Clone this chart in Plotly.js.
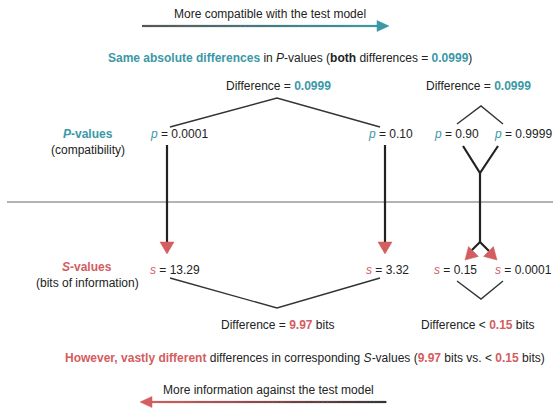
<!DOCTYPE html>
<html>
<head>
<meta charset="utf-8">
<script src="https://cdn.plot.ly/plotly-3.0.1.min.js"></script>
<style>html,body{margin:0;padding:0;background:#fff;}#chart{width:560px;height:408px;}</style>
</head>
<body>
<div id="chart"></div>
<script>
// ---- data ----
var pValues = ['0.0001', '0.10', '0.90', '0.9999'];
var sValues = ['13.29', '3.32', '0.15', '0.0001'];
var pDifferences = ['0.0999', '0.0999'];
var sDifferences = ['9.97', '0.15'];
var sDiffOps = ['=', '<'];

// ---- styling / layout positions ----
var TEAL = '#3b98a6', RED = '#d35d5f', INK = '#222222';
var FONT = 'Liberation Sans, Arial, Helvetica, sans-serif';
var pLeft = [148, 366, 432, 492];
var sLeft = [148, 364, 432, 493];
var diffX = [278, 478];

function mix(c1, c2, t) {
  var a = [parseInt(c1.substr(1,2),16), parseInt(c1.substr(3,2),16), parseInt(c1.substr(5,2),16)];
  var b = [parseInt(c2.substr(1,2),16), parseInt(c2.substr(3,2),16), parseInt(c2.substr(5,2),16)];
  return 'rgb(' + a.map(function(v,i){return Math.round(v + (b[i]-v)*t);}).join(',') + ')';
}

var shapes = [];
function line(path, color, w) {
  shapes.push({type:'path', path:path, line:{color:color, width:w}, xref:'x', yref:'y'});
}
function tri(pts, color) {
  shapes.push({type:'path', path:'M' + pts.map(function(p){return p.join(',');}).join(' L') + ' Z',
    fillcolor:color, line:{color:color, width:0.5}, xref:'x', yref:'y'});
}
function gradLine(x0, x1, y, c0, c1, n) {
  for (var i = 0; i < n; i++) {
    var a = x0 + (x1-x0)*i/n, b = x0 + (x1-x0)*(i+1)/n + (x1>x0?0.4:-0.4);
    line('M'+a+','+y+' L'+b+','+y, mix(c0, c1, (i+0.5)/n), 2.2);
  }
}

// top arrow
gradLine(142, 378, 26, '#555555', TEAL, 60);
tri([[377,20.5],[389,26],[377,31.5]], TEAL);
// bottom arrow
gradLine(151, 386, 402, RED, '#333333', 60);
tri([[152,396.5],[140,402],[152,407.5]], RED);

// separator
line('M7,202 L553,202', '#9a9a9a', 1.5);

// top brackets
line('M170,127 L277,98 L380,127', '#333333', 1.4);
line('M457,124 L481,106 L503,124', '#333333', 1.4);
// bottom brackets
line('M170,278 L277,308 L380,278', '#333333', 1.4);
line('M457,281 L481,299 L503,281', '#333333', 1.4);

// vertical arrows
line('M167,145 L167,243', INK, 2.2);
tri([[160,242],[174,242],[167,254]], RED);
line('M385,145 L385,243', INK, 2.2);
tri([[378,242],[392,242],[385,254]], RED);

// Y arrows
line('M463,146 L480,173 L498,146', INK, 2.2);
line('M480,173 L480,242', INK, 2.2);
line('M480,242 L471,251', INK, 2.2);
line('M480,242 L489,251', INK, 2.2);
tri([[465,260],[478.4,256.4],[468.5,246.5]], RED);
tri([[497,260],[493.4,246.5],[483.5,256.4]], RED);

var ann = [];
function txt(x, y, t, anchor, size) {
  ann.push({x:x, y:y, xref:'x', yref:'y', text:t, showarrow:false,
    xanchor:anchor||'center', yanchor:'middle', font:{family:FONT, size:size||12, color:'#222'}});
}
function c(col, s) { return '<span style="color:' + col + '">' + s + '</span>'; }

txt(270, 14, 'More compatible with the test model');
txt(290, 58, c(TEAL, '<b>Same absolute differences</b>') + ' in <i>P</i>-values (<b>both</b> differences = ' + c(TEAL, '<b>' + pDifferences[0] + '</b>') + ')');
for (var i = 0; i < 2; i++) {
  txt(diffX[i], 86, 'Difference = ' + c(TEAL, '<b>' + pDifferences[i] + '</b>'));
}
txt(88, 134, c(TEAL, '<b><i>P</i>-values</b>'));
txt(88, 150, '(compatibility)');
for (var j = 0; j < pValues.length; j++) {
  txt(pLeft[j], 134, c(TEAL, '<i>p</i>') + ' = ' + pValues[j], 'left');
  txt(sLeft[j], 270, c(RED, '<i>s</i>') + ' = ' + sValues[j], 'left');
}
txt(87, 267, c(RED, '<b><i>S</i>-values</b>'));
txt(87, 283, '(bits of information)');
for (var k = 0; k < 2; k++) {
  txt(diffX[k], 325, 'Difference ' + sDiffOps[k] + ' ' + c(RED, '<b>' + sDifferences[k] + '</b>') + ' bits');
}
txt(305, 358, c(RED, '<b>However, vastly different</b>') + ' differences in corresponding <i>S</i>-values (' +
  c(RED, '<b>' + sDifferences[0] + '</b>') + ' bits vs. < ' + c(RED, '<b>' + sDifferences[1] + '</b>') + ' bits)');
txt(268, 390, 'More information against the test model');

var layout = {
  width:560, height:408, margin:{l:0,r:0,t:0,b:0},
  paper_bgcolor:'#ffffff', plot_bgcolor:'#ffffff',
  xaxis:{range:[0,560], visible:false, fixedrange:true},
  yaxis:{range:[408,0], visible:false, fixedrange:true},
  shapes:shapes, annotations:ann, showlegend:false
};
Plotly.newPlot('chart', [{x:[], y:[], type:'scatter', mode:'markers', hoverinfo:'skip'}], layout, {displayModeBar:false, staticPlot:true});
</script>
</body>
</html>
